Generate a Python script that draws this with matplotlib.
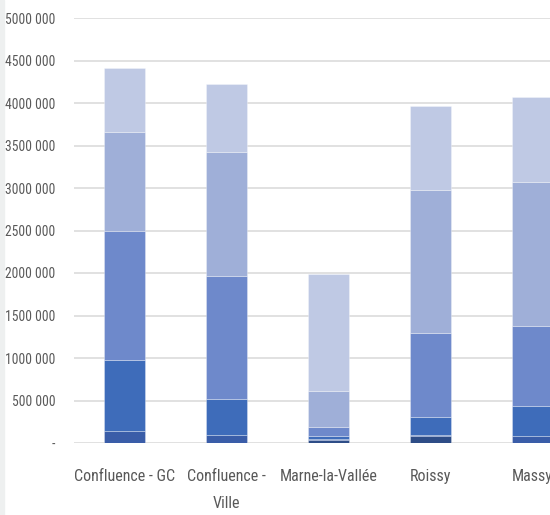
import numpy as np
import matplotlib.pyplot as plt
from matplotlib.ticker import FuncFormatter

categories = ['Confluence - GC', 'Confluence -\nVille', 'Marne-la-Vallée', 'Roissy', 'Massy']

# stacked segments, bottom to top
seg0 = [0, 0, 30000, 80000, 0]
seg1 = [141000, 90000, 15000, 10000, 86000]
seg2 = [835000, 428000, 37000, 212000, 346000]
seg3 = [1518000, 1447000, 110000, 988000, 944000]
seg4 = [1165000, 1462000, 423000, 1690000, 1698000]
seg5 = [753000, 797000, 1373000, 985000, 993000]

colors = ['#2e4d87', '#3a5da8', '#3e6cba', '#6e89cb', '#9fafd8', '#bfc9e4']

plt.rcParams['font.family'] = ['Roboto Condensed', 'DejaVu Sans']

fig = plt.figure(figsize=(5.5, 5.15), dpi=100)
fig.patch.set_facecolor('white')
# thin grey strip on the left edge
fig.add_artist(plt.Rectangle((0, 0), 4 / 550, 1, transform=fig.transFigure,
                             color='#eef0f0', zorder=0))

ax = fig.add_axes([73.5 / 550, 72 / 515, 509.5 / 550, 425 / 515])

x = np.arange(len(categories))
bottom = np.zeros(len(categories))
for seg, c in zip([seg0, seg1, seg2, seg3, seg4, seg5], colors):
    ax.bar(x, seg, width=0.40, bottom=bottom, color=c,
           edgecolor=(1, 1, 1, 0.35), linewidth=0.6, zorder=3)
    bottom += np.array(seg)

ax.set_xlim(-0.5, 4.5)
ax.set_ylim(0, 5000000)
ax.set_yticks(np.arange(0, 5000001, 500000))


def fmt(v, pos):
    if v == 0:
        return '-'
    return f"{int(v // 1000)} 000"


ax.yaxis.set_major_formatter(FuncFormatter(fmt))
ax.grid(axis='y', color='#dcdcdc', linewidth=1.2, zorder=0)
for s in ax.spines.values():
    s.set_visible(False)
ax.tick_params(axis='both', length=0, colors='#595959')
ax.tick_params(axis='y', labelsize=9.8, pad=13)
ax.tick_params(axis='x', labelsize=11.5, pad=19)
ax.set_xticks(x)
ax.set_xticklabels(categories, linespacing=2.0)
for lbl in ax.get_xticklabels():
    lbl.set_verticalalignment('top')

fig.savefig('out.png', dpi=100)
